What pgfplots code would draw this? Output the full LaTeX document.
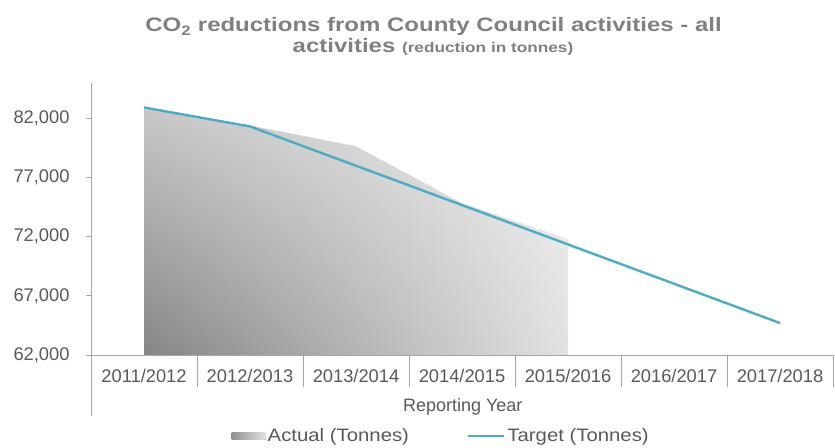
\documentclass[border=0pt]{standalone}
\usepackage{fontspec}
\setmainfont{Liberation Sans}
\usepackage{graphicx}
\usepackage{pgfplots}
\pgfplotsset{compat=1.18}
\usetikzlibrary{fadings}
\definecolor{txt}{HTML}{595959}
\definecolor{ttl}{HTML}{808080}
\definecolor{axg}{HTML}{A6A6A6}
\definecolor{tgt}{HTML}{4BACC6}
\definecolor{dk}{HTML}{868686}
\definecolor{lt}{HTML}{E2E2E2}
\begin{document}
\begin{tikzpicture}[x=1bp,y=1bp]
\useasboundingbox (0,0) rectangle (835,448);
\node[font=\fontsize{19.5bp}{21bp}\selectfont\bfseries, text=ttl, anchor=base] at (433.5,416)
  {\scalebox{1.23}[1]{CO\textsubscript{2} reductions from County Council activities - all}};
\node[font=\fontsize{19.5bp}{21bp}\selectfont\bfseries, text=ttl, anchor=base] at (433,395)
  {\scalebox{1.23}[1]{activities {\fontsize{14bp}{15bp}\selectfont (reduction in tonnes)}}};
\begin{axis}[
  at={(91bp,93bp)}, anchor=south west, scale only axis,
  width=742bp, height=272bp,
  xmin=-0.5, xmax=6.5, ymin=62000, ymax=85000,
  axis x line*=bottom, axis y line*=left,
  axis line style={draw=axg, line width=0.75bp},
  tick align=outside, major tick length=5bp,
  ytick={62000,67000,72000,77000,82000},
  /pgf/number format/1000 sep={,},
  /pgf/number format/assume math mode=true,
  scaled y ticks=false,
  ytick style={draw=axg, line width=0.75bp},
  tick label style={font=\fontsize{18.3bp}{20bp}\selectfont, text=txt},
  yticklabel style={xshift=-13bp},
  xtick={0,...,6},
  xticklabels={2011/2012,2012/2013,2013/2014,2014/2015,2015/2016,2016/2017,2017/2018},
  xtick style={draw=none},
  xticklabel style={yshift=-6bp},
  extra x ticks={0.5,1.5,2.5,3.5,4.5,5.5,6.5},
  extra x tick labels={},
  extra x tick style={major tick length=32bp, xtick style={draw=axg, line width=0.75bp}},
  xlabel={Reporting Year},
  x label style={at={(axis description cs:0.501,-0.191)}, anchor=center, font=\fontsize{18bp}{19bp}\selectfont, text=txt},
  legend columns=2,
  legend style={at={(0.472,-0.298)}, anchor=center, draw=none, fill=none,
    font=\fontsize{18bp}{20bp}\selectfont, text=txt, inner sep=0pt,
    /tikz/every even column/.append style={column sep=56bp}},
  legend cell align=left,
  clip=false,
]
\addplot[draw=none, left color=dk, right color=lt,
  legend image code/.code={\fill[left color=dk!90, right color=lt] (0bp,-3.5bp) rectangle (34bp,3.5bp);}]
  coordinates {(0,62000) (0,82930) (1,81400) (2,79640) (3,74830) (4,71800) (4,62000)};
\addlegendentry{\scalebox{1.13}[1]{Actual (Tonnes)}}
\addplot[draw=none, fill=white, fill opacity=0.55, path fading=south, forget plot]
  coordinates {(0,62000) (0,82930) (1,81400) (2,79640) (3,74830) (4,71800) (4,62000)};
\addplot[tgt, line width=2.4bp, line join=round,
  legend image code/.code={\draw[tgt, line width=2.4bp] (0bp,0bp) -- (36bp,0bp);}]
  coordinates {(0,82930) (1,81325) (2,78000) (3,74675) (4,71350) (5,68025) (6,64700)};
\addlegendentry{\scalebox{1.13}[1]{Target (Tonnes)}}
\end{axis}
\draw[axg, line width=0.75bp] (91,93) -- (91,32);
\end{tikzpicture}
\end{document}
